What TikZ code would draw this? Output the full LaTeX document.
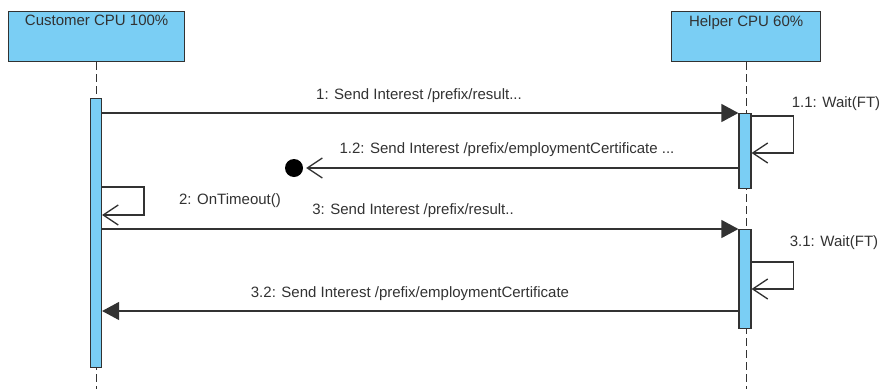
\documentclass[tikz,border=0pt]{standalone}
\usepackage{fontspec}
\setmainfont{Liberation Sans}
\usetikzlibrary{positioning,arrows.meta,calc}
\definecolor{lifeblue}{RGB}{122,206,244}
\definecolor{umlgray}{RGB}{50,50,50}

\begin{document}
\begin{tikzpicture}[x=1pt,y=-1pt,
        font=\fontsize{15}{18}\selectfont, text=umlgray,
        headbox/.style={draw=umlgray, fill=lifeblue, line width=1.3pt, minimum height=50pt, inner sep=0pt, anchor=north west},
        headtext/.style={anchor=north, yshift=-4pt, inner sep=0pt},
        actbar/.style={draw=umlgray, fill=lifeblue, line width=1.2pt, inner sep=0pt, anchor=north},
        lifeline/.style={draw=umlgray, line width=1.2pt, dash pattern=on 8pt off 4pt},
        syncmsg/.style={draw=umlgray, line width=1.3pt, -{Triangle[length=17pt,width=18pt]}},
        openmsg/.style={draw=umlgray, line width=1.3pt, -{Straight Barb[length=15pt,width=20pt,line width=1.3pt]}},
        lostend/.style={circle, fill=black, minimum size=18pt, inner sep=0pt},
        msgtext/.style={inner sep=0pt}
        ]
    \useasboundingbox (0,0) rectangle (883,389);

    % Lifeline heads
    \node[headbox, minimum width=176pt, label={[headtext]north:Customer CPU 100\%}] (cust) at (8,11) {};
    \node[headbox, minimum width=149pt, label={[headtext]north:Helper CPU 60\%}] (help) at (671,11) {};

    % Lifelines
    \draw[lifeline] (cust.south) -- (cust.south |- 0,389);
    \draw[lifeline] (help.south) -- (help.south |- 0,389);

    % Activations
    \node[actbar, minimum width=11pt, minimum height=269pt] (cbar) at (96,98) {};
    \node[actbar, minimum width=12pt, minimum height=75pt] (hbarA) at (745,113) {};
    \node[actbar, minimum width=12pt, minimum height=99pt] (hbarB) at (745,229) {};
    \node[lostend] (lost) at (294,168) {};

    % Messages
    \draw[syncmsg] (cbar.east |- hbarA.north) -- (hbarA.north west);
    \node[msgtext] (l1) at (419,96) {1: Send Interest /prefix/result...};

    \draw[openmsg] ($(hbarA.north east)+(0,3)$) -- ++(42,0) -- ++(0,37) -- ++(-42,0);
    \node[msgtext] (l11) at (836,104) {1.1: Wait(FT)};

    \draw[openmsg, shorten >=3pt] (hbarA.west |- lost) -- (lost.east);
    \node[msgtext] (l12) at (507,150) {1.2: Send Interest /prefix/employmentCertificate ...};

    \draw[openmsg] (cbar.east |- 0,187) -- ++(42,0) -- ++(0,28) -- ++(-42,0);
    \node[msgtext] (l2) at (230,201) {2: OnTimeout()};

    \draw[syncmsg] (cbar.east |- hbarB.north) -- (hbarB.north west);
    \node[msgtext] (l3) at (413,211) {3: Send Interest /prefix/result..};

    \draw[openmsg] (hbarB.east |- 0,262) -- ++(42,0) -- ++(0,27) -- ++(-42,0);
    \node[msgtext] (l31) at (834,243) {3.1: Wait(FT)};

    \draw[syncmsg] (hbarB.west |- 0,311) -- (cbar.east |- 0,311);
    \node[msgtext] (l32) at (410,294) {3.2: Send Interest /prefix/employmentCertificate};

\end{tikzpicture}
\end{document}
